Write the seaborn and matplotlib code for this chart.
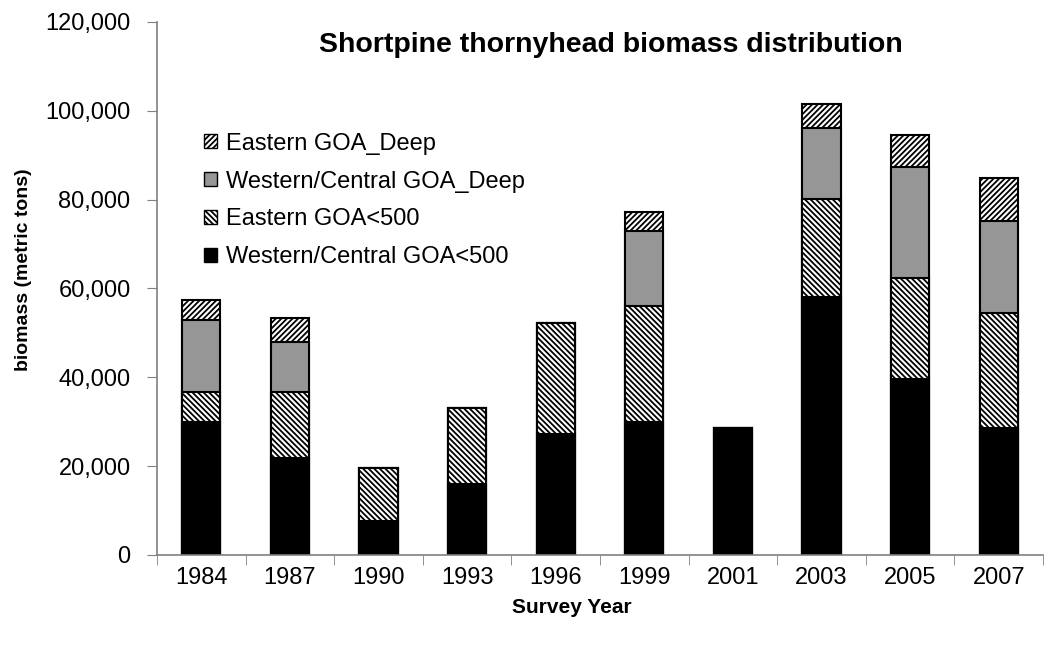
import seaborn as sns
import matplotlib.pyplot as plt
import matplotlib.ticker as mticker
from matplotlib.patches import Patch
import numpy as np

# Survey years and biomass (metric tons) per region
years = ['1984', '1987', '1990', '1993', '1996', '1999', '2001', '2003', '2005', '2007']
wc_shallow = [30000, 21900, 7600, 16000, 27300, 30000, 28500, 58000, 39700, 28600]
e_shallow = [6800, 14900, 11900, 17000, 25000, 26000, 0, 22200, 22600, 25800]
wc_deep = [16000, 11200, 0, 0, 0, 17000, 0, 15900, 25100, 20800]
e_deep = [4600, 5400, 0, 0, 0, 4300, 0, 5500, 7200, 9600]

labels = ['Western/Central GOA<500', 'Eastern GOA<500',
          'Western/Central GOA_Deep', 'Eastern GOA_Deep']
colors = ['black', 'white', '#969696', 'white']
hatches = [None, '\\\\\\\\\\\\', None, '//////']

sns.set_style('white')
plt.rcParams['font.family'] = ['Liberation Sans', 'DejaVu Sans']
plt.rcParams['text.color'] = 'black'
plt.rcParams['axes.labelcolor'] = 'black'
plt.rcParams['hatch.linewidth'] = 1.3
plt.rcParams['hatch.color'] = '#333333'

fig = plt.figure(figsize=(10.57, 6.46), dpi=100)
ax = fig.add_axes([0.1485, 0.1409, 0.8383, 0.8251])

# stacked bars: draw cumulative totals from the top layer down
layers = np.array([wc_shallow, e_shallow, wc_deep, e_deep])
cum = np.cumsum(layers, axis=0)
for i in range(3, -1, -1):
    sns.barplot(x=years, y=cum[i], order=years, color=colors[i], saturation=1,
                hatch=hatches[i], edgecolor='black', linewidth=1.5,
                width=0.43, ax=ax)

ax.set_xlim(-0.5, 9.5)
ax.set_ylim(0, 120000)
ax.set_yticks(range(0, 120001, 20000))
ax.yaxis.set_major_formatter(mticker.FuncFormatter(lambda v, p: f'{int(v):,}'))

# ticks between categories
ax.set_xticks(np.arange(-0.5, 10, 1), minor=True)
ax.tick_params(axis='x', which='major', length=0, labelsize=17, pad=9,
               labelcolor='black')
ax.tick_params(axis='x', which='minor', length=7, color='#808080',
               direction='out', bottom=True)
ax.tick_params(axis='y', length=7, color='#808080', direction='out',
               labelsize=17, left=True, pad=12, labelcolor='black')

sns.despine(ax=ax)
for s in ['left', 'bottom']:
    ax.spines[s].set_color('#808080')
    ax.spines[s].set_linewidth(1.2)

ax.set_xlabel('Survey Year', fontsize=15, fontweight='bold')
ax.set_ylabel('biomass (metric tons)', fontsize=14, fontweight='bold')
ax.xaxis.set_label_coords(0.468, -0.08)
ax.yaxis.set_label_coords(-0.141, 0.535)
ax.text(0.512, 0.957, 'Shortpine thornyhead biomass distribution', transform=ax.transAxes,
        ha='center', va='center', fontsize=20.5, fontweight='bold')

handles = [Patch(facecolor=colors[i], hatch=hatches[i], edgecolor='black', label=labels[i])
           for i in range(3, -1, -1)]
ax.legend(handles=handles, loc='upper left', bbox_to_anchor=(0.042, 0.81), frameon=False,
          fontsize=17, handlelength=0.55, handleheight=0.55, handletextpad=0.4,
          labelspacing=0.67, borderaxespad=0)

plt.savefig('out.png', dpi=100, facecolor='white')
plt.close()
